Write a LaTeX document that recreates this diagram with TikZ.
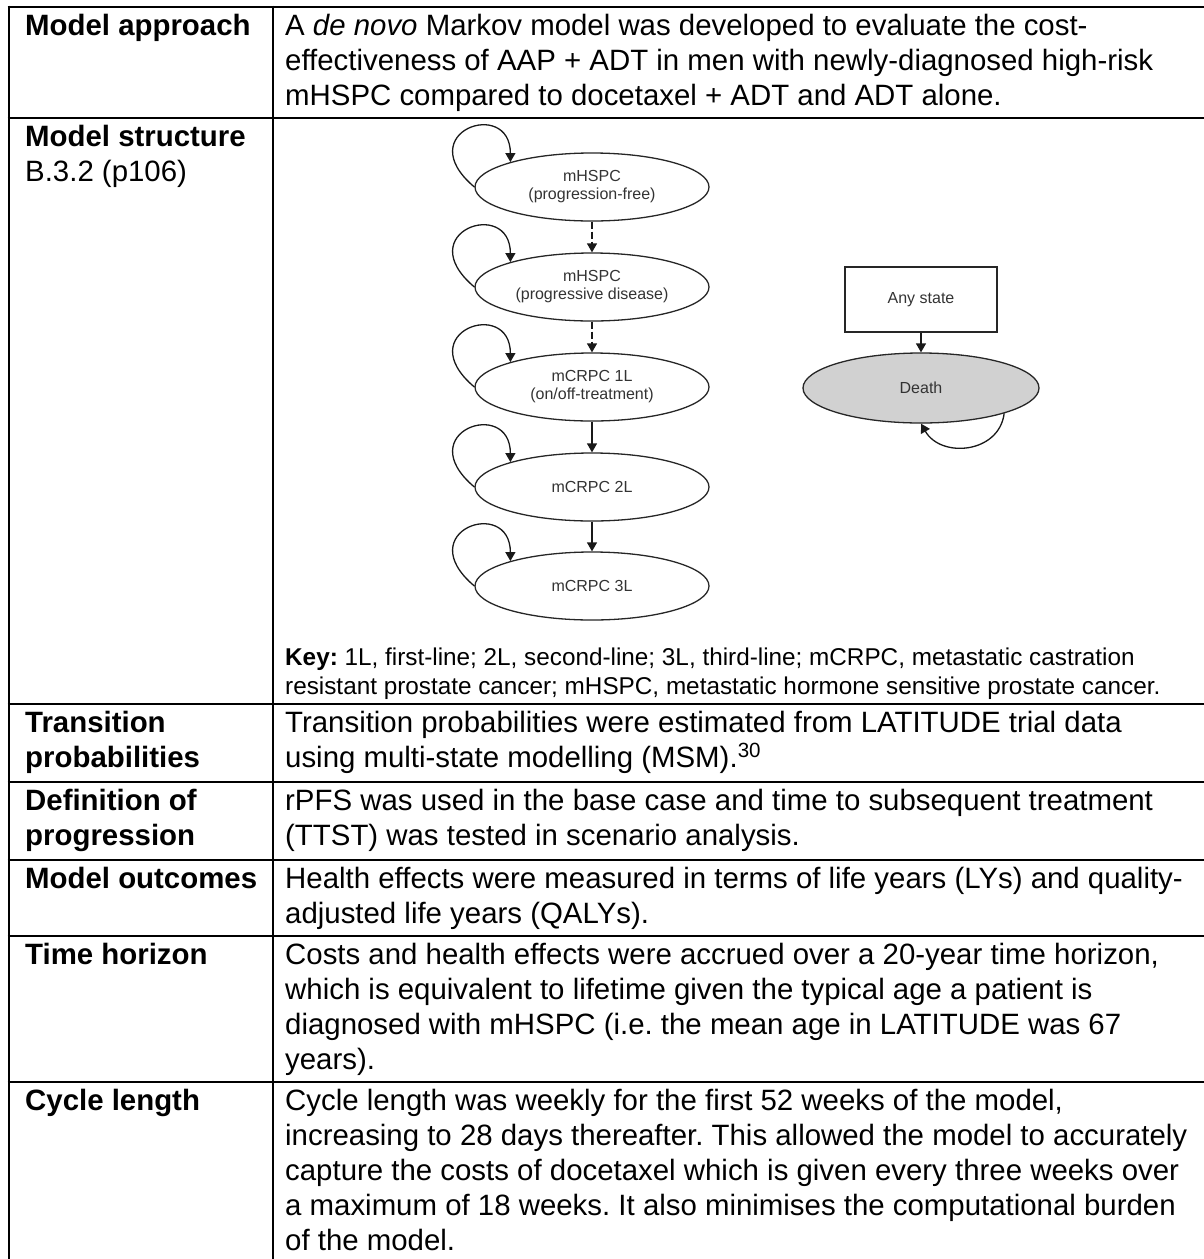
\documentclass[tikz,border=0pt]{standalone}
\usepackage{fontspec}
\setmainfont{Liberation Sans}
\usetikzlibrary{arrows.meta,shapes.geometric}
\frenchspacing
\begin{document}
\begin{tikzpicture}[x=1pt,y=1pt,
  rule/.style={line width=2.6pt, black},
  lab/.style={anchor=base west, inner sep=0pt, font=\fontsize{29.4}{35}\selectfont\bfseries},
  txt/.style={anchor=base west, inner sep=0pt, font=\fontsize{29.4}{35}\selectfont},
  keytxt/.style={anchor=base west, inner sep=0pt, font=\fontsize{24.3}{29}\selectfont},
  stat/.style={ellipse, draw=black!85, line width=1.3pt, minimum width=234pt, minimum height=68pt, inner sep=0pt, align=center, font=\fontsize{16}{18}\selectfont, text=black!80},
  anybox/.style={rectangle, draw=black!85, line width=1.3pt, minimum width=152pt, minimum height=65pt, inner sep=0pt, font=\fontsize{16}{18}\selectfont, text=black!80},
  arr/.style={-{Triangle[width=10pt,length=9pt]}, line width=1.3pt, black!90},
  dsh/.style={dash pattern=on 7pt off 3pt}
]
\useasboundingbox (0,0) rectangle (1204,-1259);

% ---- table rules ----
\foreach \yy in {7,118,704,782,860,936,1082}{
  \draw[rule] (7.7,-\yy) -- (1204,-\yy);
}
\draw[rule] (9,-5.7) -- (9,-1259);
\draw[rule] (273,-5.7) -- (273,-1259);

% ---- column 1 labels ----
\node[lab] (l1) at (25,-35) {Model approach};
\node[lab] (l2a) at (25,-146) {Model structure};
\node[txt] (l2b) at (25,-181) {B.3.2 (p106)};
\node[lab] (l3a) at (25,-732) {Transition};
\node[lab] (l3b) at (25,-767) {probabilities};
\node[lab] (l4a) at (25,-810) {Definition of};
\node[lab] (l4b) at (25,-845) {progression};
\node[lab] (l5) at (25,-888) {Model outcomes};
\node[lab] (l6) at (25,-964) {Time horizon};
\node[lab] (l7) at (25,-1110) {Cycle length};

% ---- column 2 text ----
\node[txt] (a1) at (285,-35) {A \textit{de novo} Markov model was developed to evaluate the cost-};
\node[txt] (a2) at (285,-70) {effectiveness of AAP + ADT in men with newly-diagnosed high-risk};
\node[txt] (a3) at (285,-105) {mHSPC compared to docetaxel + ADT and ADT alone.};

\node[keytxt] (k1) at (285,-665) {\textbf{Key:} 1L, first-line; 2L, second-line; 3L, third-line; mCRPC, metastatic castration};
\node[keytxt] (k2) at (285,-694) {resistant prostate cancer; mHSPC, metastatic hormone sensitive prostate cancer.};

\node[txt] (b1) at (285,-732) {Transition probabilities were estimated from LATITUDE trial data};
\node[txt] (b2) at (285,-767) {using multi-state modelling (MSM).\textsuperscript{30}};

\node[txt] (c1) at (285,-810) {rPFS was used in the base case and time to subsequent treatment};
\node[txt] (c2) at (285,-845) {(TTST) was tested in scenario analysis.};

\node[txt] (d1) at (285,-888) {Health effects were measured in terms of life years (LYs) and quality-};
\node[txt] (d2) at (285,-923) {adjusted life years (QALYs).};

\node[txt] (e1t) at (285,-964) {Costs and health effects were accrued over a 20-year time horizon,};
\node[txt] (e2t) at (285,-999) {which is equivalent to lifetime given the typical age a patient is};
\node[txt] (e3t) at (285,-1034) {diagnosed with mHSPC (i.e. the mean age in LATITUDE was 67};
\node[txt] (e4t) at (285,-1069) {years).};

\node[txt] (f1) at (285,-1110) {Cycle length was weekly for the first 52 weeks of the model,};
\node[txt] (f2) at (285,-1145) {increasing to 28 days thereafter. This allowed the model to accurately};
\node[txt] (f3) at (285,-1180) {capture the costs of docetaxel which is given every three weeks over};
\node[txt] (f4) at (285,-1215) {a maximum of 18 weeks. It also minimises the computational burden};
\node[txt] (f5) at (285,-1250) {of the model.};

% ---- Markov diagram ----
\node[stat] (s1) at (592,-187) {mHSPC\\(progression-free)};
\node[stat] (s2) at (592,-287) {mHSPC\\(progressive disease)};
\node[stat] (s3) at (592,-387) {mCRPC 1L\\(on/off-treatment)};
\node[stat] (s4) at (592,-487) {mCRPC 2L};
\node[stat] (s5) at (592,-586) {mCRPC 3L};

\draw[arr,dsh] (s1) -- (s2);
\draw[arr,dsh] (s2) -- (s3);
\draw[arr] (s3) -- (s4);
\draw[arr] (s4) -- (s5);

\foreach \s in {s1,s2,s3,s4,s5}{
  \draw[arr] (\s.west) .. controls +(-65,55) and +(0,65) .. (\s.163);
}

\node[anybox] (any) at (921,-299.5) {Any state};
\node[stat, fill=black!18, minimum width=236pt, minimum height=70pt] (death) at (921,-388) {Death};
\draw[arr] (any) -- (death);
\draw[arr] (death.-17) .. controls +(-5,-40) and +(20,-35) .. (death.south);

\end{tikzpicture}
\end{document}
